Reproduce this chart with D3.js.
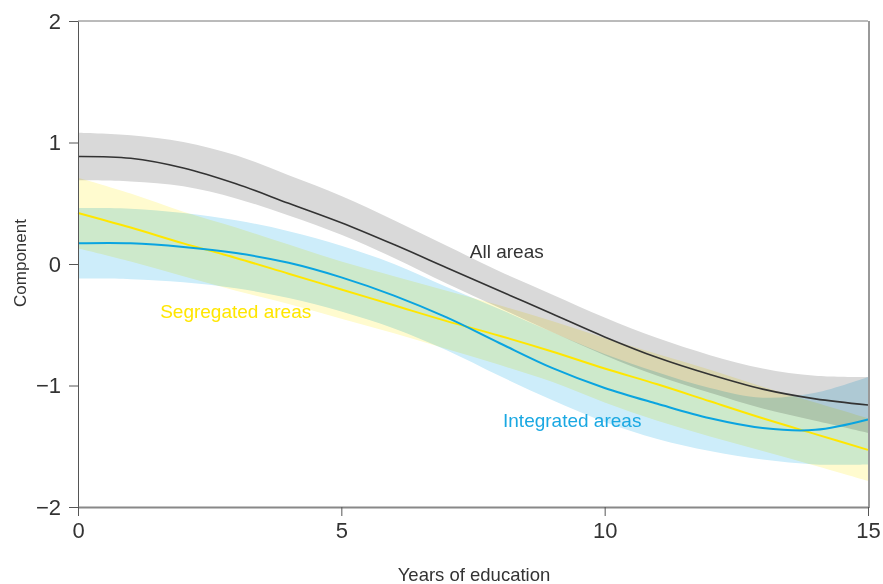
<!DOCTYPE html>
<html>
<head>
<meta charset="utf-8">
<script src="https://cdn.jsdelivr.net/npm/d3@7"></script>
<style>
  html, body { margin: 0; padding: 0; background: #fff; }
  svg { display: block; font-family: "Liberation Sans", Arial, sans-serif; }
  .band { mix-blend-mode: multiply; }
</style>
</head>
<body>
<svg id="chart" width="883" height="584"></svg>
<script>
// ---- data ----
const years = [0,1,2,3,4,5,6,7,8,9,10,11,12,13,14,15];

const allLine  = [0.885,0.87,0.79,0.66,0.50,0.34,0.16,-0.03,-0.22,-0.41,-0.60,-0.77,-0.91,-1.03,-1.11,-1.16];
const allUpper = [1.08,1.06,1.005,0.895,0.73,0.56,0.36,0.15,-0.06,-0.25,-0.44,-0.61,-0.75,-0.86,-0.92,-0.93];
const allLower = [0.69,0.68,0.64,0.54,0.40,0.24,0.05,-0.16,-0.36,-0.56,-0.75,-0.92,-1.06,-1.19,-1.29,-1.39];

const segLine  = [0.42,0.30,0.17,0.05,-0.08,-0.21,-0.34,-0.47,-0.59,-0.72,-0.86,-0.99,-1.13,-1.27,-1.40,-1.53];
const segUpper = [0.71,0.58,0.43,0.30,0.16,0.02,-0.10,-0.22,-0.34,-0.47,-0.61,-0.74,-0.87,-1.01,-1.14,-1.27];
const segLower = [0.13,0.02,-0.10,-0.22,-0.33,-0.45,-0.57,-0.70,-0.83,-0.97,-1.14,-1.29,-1.42,-1.54,-1.66,-1.785];

const intLine  = [0.17,0.17,0.14,0.09,0.01,-0.11,-0.26,-0.44,-0.65,-0.855,-1.02,-1.15,-1.27,-1.35,-1.365,-1.28];
const intUpper = [0.46,0.455,0.42,0.36,0.27,0.15,0.00,-0.19,-0.37,-0.56,-0.74,-0.89,-1.02,-1.10,-1.06,-0.93];
const intLower = [-0.12,-0.125,-0.15,-0.20,-0.28,-0.39,-0.53,-0.71,-0.92,-1.12,-1.30,-1.44,-1.54,-1.61,-1.65,-1.65];

const xTicks = [0,5,10,15];
const yTicks = [-2,-1,0,1,2];

const labels = [
  {text: "All areas",        x: 7.44, y: 0.05,   color: "#333333"},
  {text: "Segregated areas", x: 1.56, y: -0.445, color: "#ffe600"},
  {text: "Integrated areas", x: 8.07, y: -1.345, color: "#1aa8e2"}
];

// ---- layout ----
const svg = d3.select("#chart");
const W = 883, H = 584;
const x = d3.scaleLinear().domain([0, 15]).range([78, 868]);
const y = d3.scaleLinear().domain([-2, 2]).range([507, 21]);
const curve = d3.curveCatmullRom.alpha(0.5);

svg.append("rect").attr("width", W).attr("height", H).attr("fill", "#fff");

const plot = svg.append("g");

function band(upper, lower, fill) {
  const data = years.map((d, i) => ({x: d, u: upper[i], l: lower[i]}));
  plot.append("path")
    .attr("class", "band")
    .attr("fill", fill)
    .attr("d", d3.area()
      .x(d => x(d.x)).y0(d => y(d.l)).y1(d => y(d.u))
      .curve(curve)(data));
}
function line(vals, stroke, width) {
  const data = years.map((d, i) => ({x: d, v: vals[i]}));
  plot.append("path")
    .attr("fill", "none")
    .attr("stroke", stroke)
    .attr("stroke-width", width)
    .attr("d", d3.line().x(d => x(d.x)).y(d => y(d.v)).curve(curve)(data));
}

band(allUpper, allLower, "#d9d9d9");
band(intUpper, intLower, "#cdedfa");
band(segUpper, segLower, "#fffbcf");

line(allLine, "#333333", 1.6);
line(segLine, "#ffe600", 2);
line(intLine, "#0aa4e0", 2);

// frame: top and right
svg.append("line").attr("x1", 78).attr("x2", 868).attr("y1", 21).attr("y2", 21)
  .attr("stroke", "#777").attr("stroke-width", 1);
svg.append("line").attr("x1", 869).attr("x2", 869).attr("y1", 21).attr("y2", 508)
  .attr("stroke", "#999").attr("stroke-width", 2);

// axes
const fmt = d3.format("d");
const yAxis = svg.append("g").attr("transform", "translate(78,0)")
  .call(d3.axisLeft(y).tickValues(yTicks).tickFormat(fmt).tickSize(9).tickPadding(8).tickSizeOuter(0));
yAxis.select(".domain").attr("stroke", "#555");
yAxis.selectAll(".tick line").attr("stroke", "#555");
yAxis.selectAll(".tick text").attr("font-size", 22).attr("fill", "#333")
  .attr("font-family", "Liberation Sans, Arial, sans-serif");

const xAxis = svg.append("g").attr("transform", "translate(0,507)")
  .call(d3.axisBottom(x).tickValues(xTicks).tickFormat(fmt).tickSize(9).tickPadding(6).tickSizeOuter(0));
xAxis.select(".domain").attr("stroke", "#888").attr("stroke-width", 2);
xAxis.selectAll(".tick line").attr("stroke", "#555");
xAxis.selectAll(".tick text").attr("font-size", 22).attr("fill", "#333")
  .attr("font-family", "Liberation Sans, Arial, sans-serif");

// axis titles
svg.append("text").attr("x", 474).attr("y", 581).attr("text-anchor", "middle")
  .attr("font-size", 18.5).attr("fill", "#333").text("Years of education");
svg.append("text").attr("transform", "translate(26,263) rotate(-90)").attr("text-anchor", "middle")
  .attr("font-size", 17).attr("fill", "#333").text("Component");

// series labels
labels.forEach(l => {
  svg.append("text").attr("x", x(l.x)).attr("y", y(l.y))
    .attr("font-size", 19).attr("fill", l.color).text(l.text);
});
</script>
</body>
</html>
